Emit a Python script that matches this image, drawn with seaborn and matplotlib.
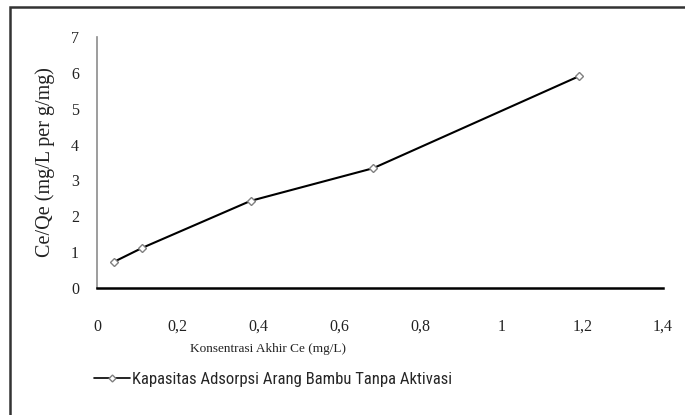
import matplotlib
matplotlib.use("Agg")
import matplotlib.pyplot as plt
import matplotlib.patches as mpatches
from matplotlib import font_manager
import seaborn as sns
import pandas as pd

ce = [0.042, 0.112, 0.38, 0.683, 1.193]
ce_qe = [0.73, 1.12, 2.43, 3.34, 5.91]
x_ticks = [0, 0.2, 0.4, 0.6, 0.8, 1.0, 1.2, 1.4]
x_tick_labels = ["0", "0,2", "0,4", "0,6", "0,8", "1", "1,2", "1,4"]
y_ticks = [0, 1, 2, 3, 4, 5, 6, 7]
series_label = "Kapasitas Adsorpsi Arang Bambu Tanpa Aktivasi"
x_label = "Konsentrasi Akhir Ce (mg/L)"
y_label = "Ce/Qe (mg/L per g/mg)"

sns.set_theme(style="white")
plt.rcParams['font.family'] = ['Liberation Serif', 'DejaVu Serif']

installed = {f.name for f in font_manager.fontManager.ttflist}
legend_family = [f for f in ["Liberation Sans Narrow", "Roboto Condensed", "Open Sans Condensed",
                             "Roboto", "Liberation Sans"] if f in installed][:1] + ["DejaVu Sans"]

fig = plt.figure(figsize=(6.85, 4.15), dpi=100)
ax = fig.add_axes([97/685, 1-288/415, (663-97)/685, (288-37)/415])

df = pd.DataFrame({"ce": ce, "ceqe": ce_qe})
sns.lineplot(data=df, x="ce", y="ceqe", ax=ax, color="black", linewidth=1.5,
             marker="D", markersize=4.5, markerfacecolor="white",
             markeredgecolor="#808080", markeredgewidth=1.0, legend=False)

ax.set_xlim(0, 1.4)
ax.set_ylim(0, 7)
ax.set_xticks(x_ticks)
ax.set_xticklabels(x_tick_labels)
ax.set_yticks(y_ticks)
ax.tick_params(axis="x", length=0, pad=22, labelsize=11.5, colors="#222222")
ax.tick_params(axis="y", length=0, pad=13, labelsize=11.5, colors="#222222")
for s in ["top", "right"]:
    ax.spines[s].set_visible(False)
ax.spines["left"].set_color("#8c8c8c")
ax.spines["left"].set_linewidth(1.2)
ax.spines["bottom"].set_color("black")
ax.spines["bottom"].set_linewidth(1.8)
ax.set_xlabel(x_label, fontsize=9.5, color="#222222")
ax.xaxis.set_label_coords((268-97)/566, -(343-288)/251)
ax.set_ylabel(y_label, fontsize=14.5, color="#222222")
ax.yaxis.set_label_coords(-(97-55)/566, 0.5)

handle = plt.Line2D([], [], color="black", linewidth=1.2, marker="D", markersize=3.5,
                    markerfacecolor="white", markeredgecolor="#808080")
fig.legend([handle], [series_label], loc="center", bbox_to_anchor=(273/685, 1-379/415),
           frameon=False, handlelength=2.2, handletextpad=0.1,
           prop={"family": legend_family, "size": 12})

frame = mpatches.Rectangle((10/685, -0.1), 1.2, 0.983 + 0.1, transform=fig.transFigure,
                           fill=False, edgecolor="#333333", linewidth=1.8, clip_on=False)
fig.patches.append(frame)

fig.savefig("out.png", dpi=100)
